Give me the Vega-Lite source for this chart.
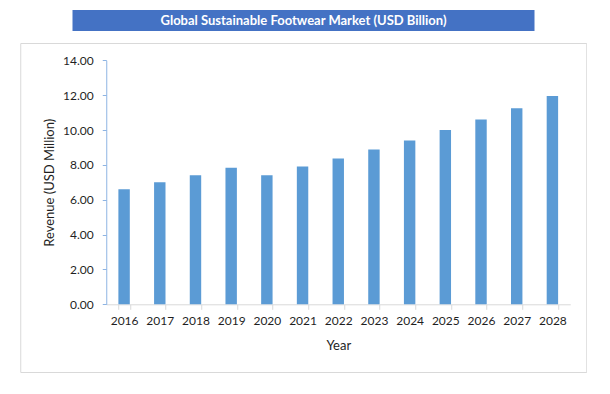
{
  "$schema": "https://vega.github.io/schema/vega-lite/v6.json",
  "background": "white",
  "padding": {"left": 19, "top": 10, "right": 0, "bottom": 0},
  "spacing": 11,
  "center": true,
  "config": {
    "font": "Lato",
    "view": {"stroke": null}
  },
  "vconcat": [
    {
      "width": 462,
      "height": 21,
      "view": {"fill": "#4472C4", "stroke": null},
      "data": {"values": [{"title": "Global Sustainable Footwear Market (USD Billion)"}]},
      "mark": {"type": "text", "font": "Lato", "fontWeight": "bold", "fontSize": 13, "color": "white"},
      "encoding": {"text": {"field": "title"}}
    },
    {
      "width": 566,
      "height": 329,
      "view": {"stroke": "#d9d9d9", "strokeWidth": 1},
      "data": {
        "values": [
          {"Year": "2016", "Revenue": 6.6},
          {"Year": "2017", "Revenue": 7.0},
          {"Year": "2018", "Revenue": 7.4},
          {"Year": "2019", "Revenue": 7.83},
          {"Year": "2020", "Revenue": 7.4},
          {"Year": "2021", "Revenue": 7.9},
          {"Year": "2022", "Revenue": 8.37},
          {"Year": "2023", "Revenue": 8.88},
          {"Year": "2024", "Revenue": 9.4},
          {"Year": "2025", "Revenue": 10.0},
          {"Year": "2026", "Revenue": 10.6},
          {"Year": "2027", "Revenue": 11.25},
          {"Year": "2028", "Revenue": 11.95}
        ]
      },
      "mark": {"type": "bar", "color": "#5b9bd5"},
      "encoding": {
        "x": {
          "field": "Year",
          "type": "ordinal",
          "scale": {"range": [86, 550], "paddingInner": 0.68, "paddingOuter": 0.34},
          "axis": {
            "title": "Year",
            "labelAngle": 0,
            "offset": -67.7,
            "tickBand": "extent",
            "domainColor": "#d9d9d9",
            "tickColor": "#d9d9d9",
            "tickSize": 5,
            "labelPadding": 6,
            "labelFont": "Lato",
            "labelFontSize": 12,
            "labelColor": "#1f1f1f",
            "titleFont": "Lato",
            "titleFontSize": 13,
            "titleFontWeight": "normal",
            "titleColor": "#1f1f1f",
            "titlePadding": 13
          }
        },
        "y": {
          "field": "Revenue",
          "type": "quantitative",
          "scale": {"domain": [0, 14], "range": [261.3, 17.3], "nice": false},
          "axis": {
            "title": "Revenue (USD Million)",
            "values": [0, 2, 4, 6, 8, 10, 12, 14],
            "format": ".2f",
            "offset": -86,
            "grid": false,
            "domainColor": "#8eb4e3",
            "tickColor": "#8eb4e3",
            "tickSize": 4,
            "labelPadding": 9,
            "labelFont": "Lato",
            "labelFontSize": 12,
            "labelColor": "#1f1f1f",
            "titleFont": "Lato",
            "titleFontSize": 13,
            "titleFontWeight": "normal",
            "titleColor": "#1f1f1f",
            "titlePadding": 6
          }
        }
      }
    }
  ]
}
